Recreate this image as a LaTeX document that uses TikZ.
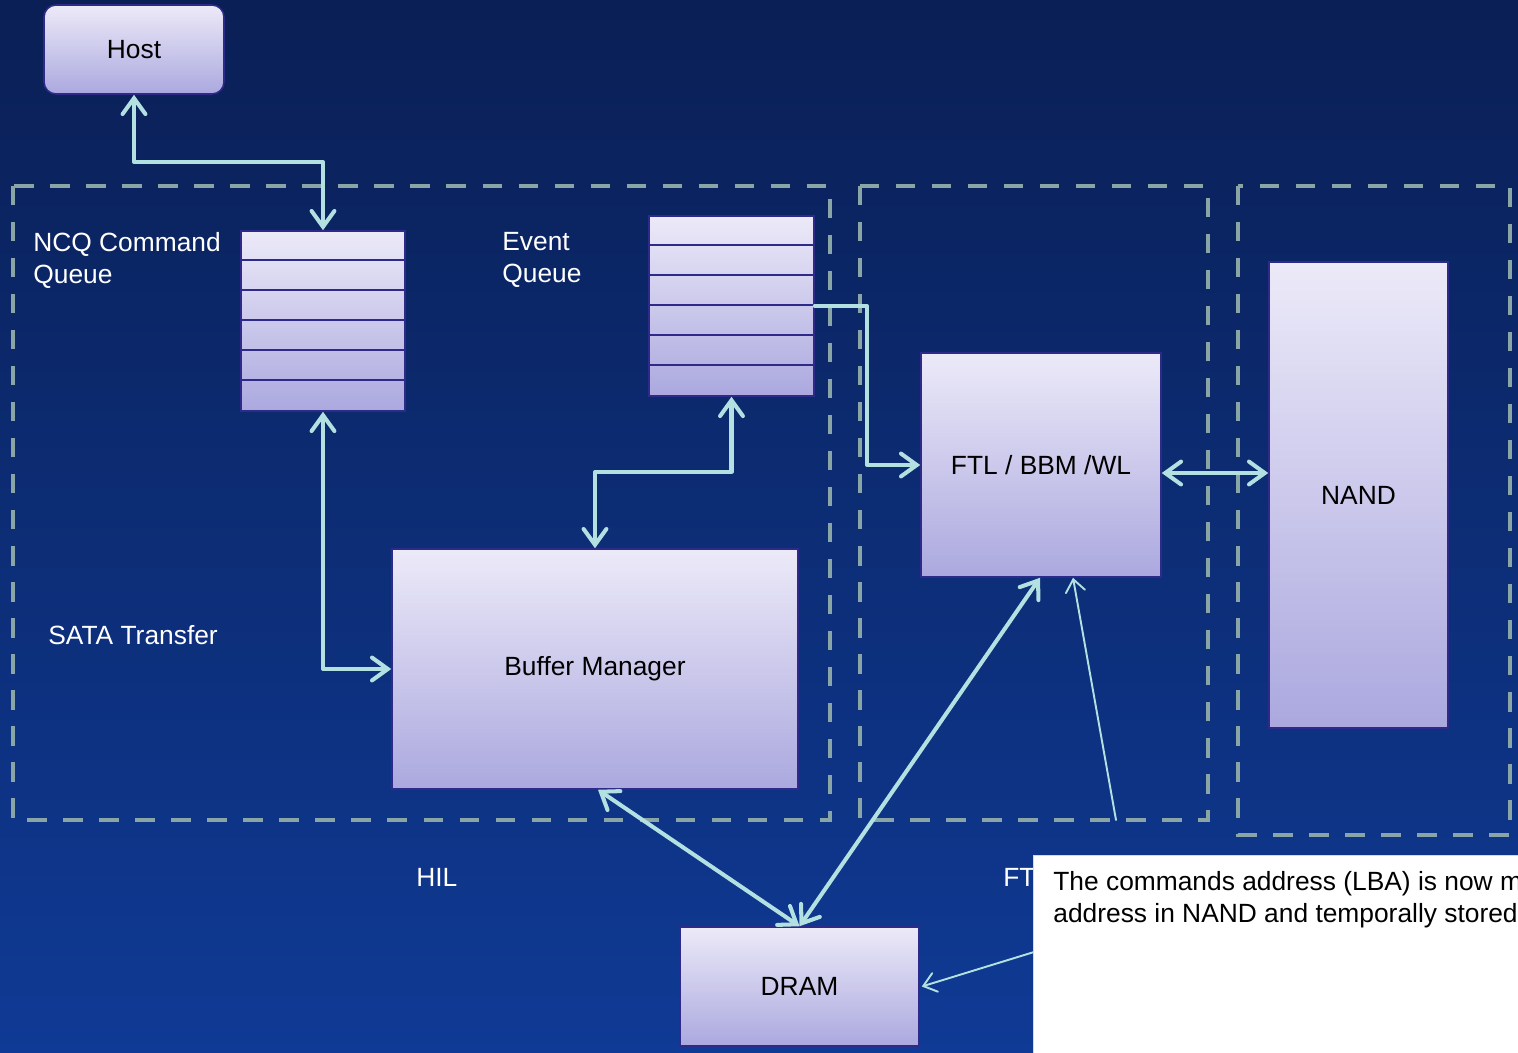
\documentclass[tikz,border=0pt]{standalone}
\usepackage{fontspec}
\setmainfont{Liberation Sans}
\usetikzlibrary{arrows.meta,calc}
\definecolor{bgtop}{HTML}{0A1F55}
\definecolor{bgbot}{HTML}{0F3A95}
\definecolor{boxtop}{HTML}{ECEAF8}
\definecolor{boxbot}{HTML}{ABA8DF}
\definecolor{boxline}{HTML}{2D2A8A}
\definecolor{dashc}{HTML}{8AA5A5}
\definecolor{arrowc}{HTML}{B3E0E0}
\newcommand{\fs}{\fontsize{15}{18.3}\selectfont}
\begin{document}
\begin{tikzpicture}[x=0.02cm,y=-0.02cm,
  box/.style={draw=boxline, line width=0.9pt, top color=boxtop, bottom color=boxbot,
    inner sep=0pt, font=\fs, text=black},
  lab/.style={text=white, font=\fs, inner sep=0pt, align=left},
  region/.style={draw=dashc, line width=2.3pt, dash pattern=on 11pt off 9.5pt},
  conn/.style={draw=arrowc, line width=2.3pt, line cap=round, line join=round,
    >={Straight Barb[length=9pt,width=13pt,line cap=round]}},
  thinconn/.style={draw=arrowc, line width=1.1pt, line cap=round,
    >={Straight Barb[length=7pt,width=11pt,line cap=round]}}]
\useasboundingbox (0,0) rectangle (1518,1052);
\clip (0,0) rectangle (1518,1052);
\shade[top color=bgtop,bottom color=bgbot] (0,0) rectangle (1518,1052);

% dashed regions
\draw[region] (13,186) rectangle (830,820);
\draw[region] (860,186) rectangle (1208,820);
\draw[region] (1238,186) rectangle (1510,835);

% nodes
\node[box, rounded corners=0.24cm, minimum width=3.6cm, minimum height=1.78cm] (Host) at (134,49.5) {Host};
\node[box, minimum width=3.28cm, minimum height=3.6cm] (NCQ) at (323,321) {};
\foreach \i in {1,...,5} \draw[draw=boxline, line width=1.2pt] ($(NCQ.north west)+(0,30*\i)$) -- ++(164,0);
\node[box, minimum width=3.3cm, minimum height=3.6cm] (EQ) at (731.5,306) {};
\foreach \i in {1,...,5} \draw[draw=boxline, line width=1.2pt] ($(EQ.north west)+(0,30*\i)$) -- ++(165,0);
\node[box, minimum width=8.12cm, minimum height=4.8cm] (BM) at (595,669) {Buffer Manager};
\node[box, minimum width=4.8cm, minimum height=4.48cm] (FTL) at (1041,465) {FTL / BBM /WL};
\node[box, minimum width=3.58cm, minimum height=9.32cm] (NAND) at (1358.5,495) {NAND};
\node[box, minimum width=4.78cm, minimum height=2.38cm] (DRAM) at (799.5,986.5) {DRAM};

% labels
\node[lab, anchor=north west] (lncq) at (33,232) {NCQ Command\\Queue};
\node[lab, anchor=north west] (leq) at (502,232) {Event\\Queue};
\node[lab, anchor=west] (lsata) at (48,635) {SATA Transfer};
\node[lab, anchor=west] (lhil) at (416,877) {HIL};
\node[lab, anchor=west] (lftl) at (1003,877) {FTL};

% connectors
\coordinate (h1) at (0,162);
\coordinate (e1) at (0,472);
\coordinate (e2) at (867,0);
\coordinate (n1) at (0,473);
\draw[conn,<->] (Host.south) -- (Host.south |- h1) -| (NCQ.north);
\draw[conn,<->] (NCQ.south) |- (BM.west);
\draw[conn,<->] (EQ.south) -- (EQ.south |- e1) -| (BM.north);
\draw[conn,->] (EQ.east) -- (EQ.east -| e2) |- (FTL.west);
\draw[conn,<->] (FTL.east |- n1) -- (NAND.west |- n1);
\draw[conn,<->] ($(BM.south)+(3,0)$) -- (DRAM.north);
\draw[conn,<->] ($(FTL.south)+(-1,0)$) -- (DRAM.north);
\coordinate (t1) at (1116,820);
\draw[thinconn,->] (t1) -- ($(FTL.south)+(32,0)$);
\coordinate (c2) at (1034,952);
\draw[thinconn,->] (c2) -- ($(DRAM.east)+(2,0)$);

% note
\node[fill=white, draw=white!85!black, line width=0.5pt, anchor=north west, minimum width=10.2cm, minimum height=4.2cm, inner sep=0pt] (note) at (1033,855) {};
\node[anchor=north west, inner sep=0pt, align=left, font=\fs, text=black] (notetext) at (1053,871)
  {The commands address (LBA) is now mapped\\address in NAND and temporally stored in};
\end{tikzpicture}
\end{document}
